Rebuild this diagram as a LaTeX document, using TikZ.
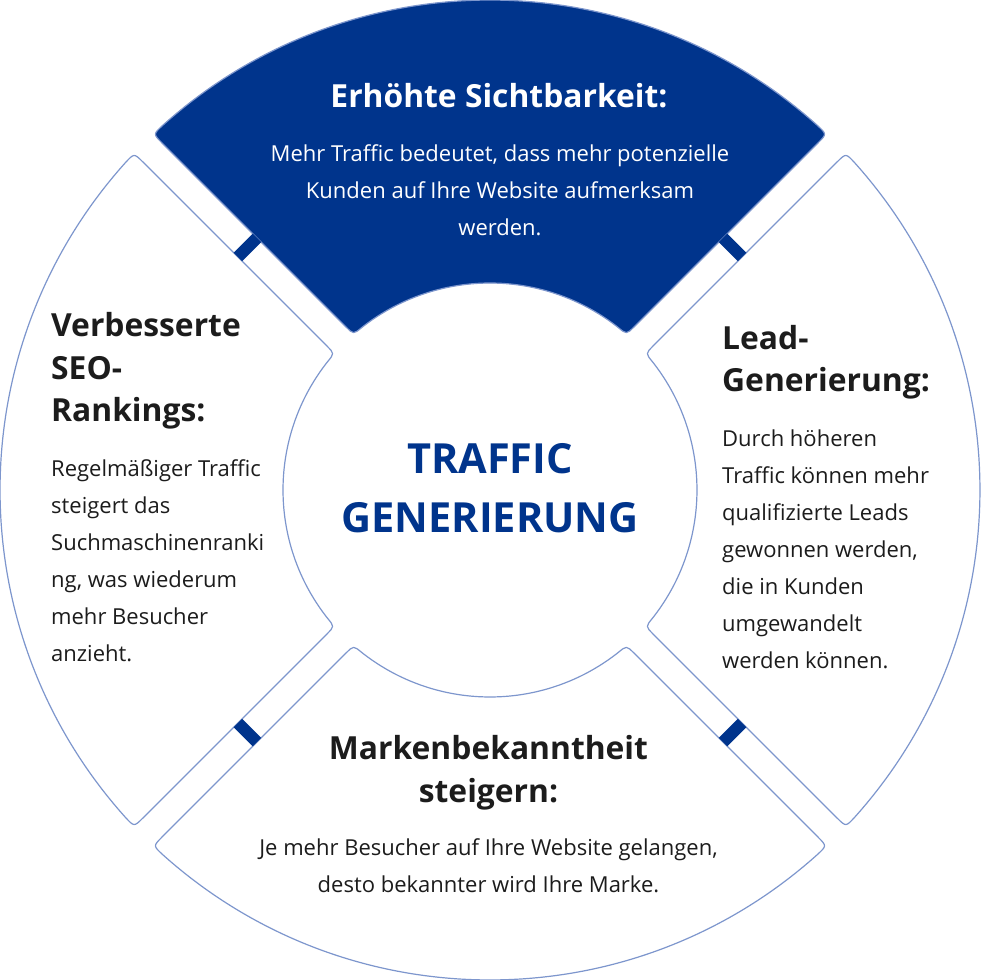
\documentclass[tikz,border=0pt]{standalone}
\usepackage{fontspec}
\setmainfont{Open Sans}
\usepackage{tikz}
\usetikzlibrary{positioning}
\definecolor{trafficblue}{RGB}{0,52,140}
\definecolor{ringline}{RGB}{125,150,205}
\definecolor{textdark}{RGB}{28,28,28}

\newcommand{\ringsector}[2]{%
 \begin{scope}[rotate=#1]
  \filldraw[#2] (48.55:217.93) -- (46.62:477.51) .. controls (46.58:490) .. (48.06:490)
   arc[start angle=48.06,end angle=131.94,radius=490]
   .. controls (133.42:490) .. (133.38:477.51) -- (131.45:217.93)
   .. controls (131.26:207) .. (128.31:207)
   arc[start angle=128.31,end angle=51.69,radius=207]
   .. controls (48.74:207) .. (48.55:217.93) -- cycle;
 \end{scope}}

\begin{document}
\begin{tikzpicture}[x=1pt,y=1pt,line cap=round,line join=round,
  headtxt/.style={font=\fontsize{31.8}{42.5}\selectfont\bfseries,inner sep=0pt},
  bodytxt/.style={font=\fontsize{22}{37}\selectfont,inner sep=0pt},
  centertxt/.style={font=\fontsize{41.5}{59}\selectfont\bfseries,inner sep=0pt,text=trafficblue}]
 \useasboundingbox (-490,-490) rectangle (490,490);
 \ringsector{0}{fill=trafficblue,draw=ringline,line width=1.2pt}
 \ringsector{90}{fill=white,draw=ringline,line width=1.2pt}
 \ringsector{180}{fill=white,draw=ringline,line width=1.2pt}
 \ringsector{270}{fill=white,draw=ringline,line width=1.2pt}
 \foreach \a in {45,135,225,315}
  \fill[trafficblue,rotate=\a] (337,-13.5) rectangle (349,13.5);
 % top
 \node[headtxt,text=white,anchor=base] (sichtHead) at (9,382) {Erhöhte Sichtbarkeit:};
 \node[bodytxt,text=white,align=center,anchor=base] (sichtBody) at (10,254)
  {Mehr Traffic bedeutet, dass mehr potenzielle\\Kunden auf Ihre Website aufmerksam\\werden.};
 % left
 \node[headtxt,text=textdark,align=left,anchor=base west] (seoHead) at (-439,68)
  {Verbesserte\\SEO-\\Rankings:};
 \node[bodytxt,text=textdark,align=left,anchor=base west] (seoBody) at (-439,-171)
  {Regelmäßiger Traffic\\steigert das\\Suchmaschinenranki\\ng, was wiederum\\mehr Besucher\\anzieht.};
 % right
 \node[headtxt,text=textdark,align=left,anchor=base west] (leadHead) at (232,98)
  {Lead-\\Generierung:};
 \node[bodytxt,text=textdark,align=left,anchor=base west] (leadBody) at (232,-178)
  {Durch höheren\\Traffic können mehr\\qualifizierte Leads\\gewonnen werden,\\die in Kunden\\umgewandelt\\werden können.};
 % bottom
 \node[headtxt,text=textdark,align=center,anchor=base] (markeHead) at (-1.5,-312)
  {Markenbekanntheit\\steigern:};
 \node[bodytxt,text=textdark,align=center,anchor=base] (markeBody) at (-1.5,-402)
  {Je mehr Besucher auf Ihre Website gelangen,\\desto bekannter wird Ihre Marke.};
 % center
 \node[centertxt,align=center,anchor=base] (traffic) at (0,-42) {TRAFFIC\\GENERIERUNG};
\end{tikzpicture}
\end{document}
